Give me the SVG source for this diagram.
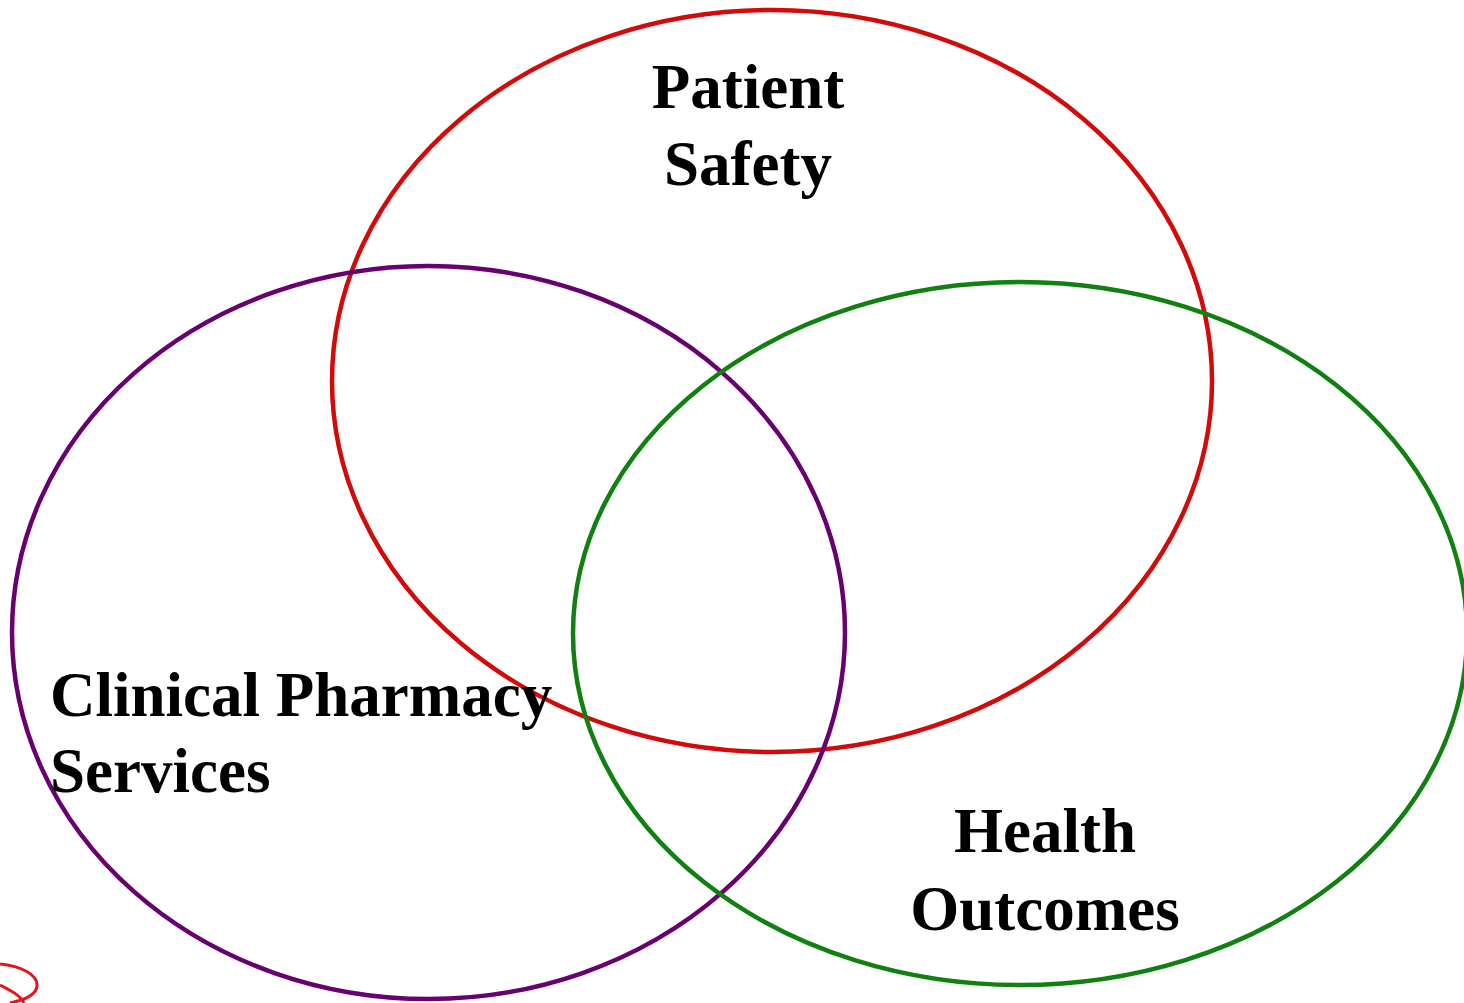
<svg xmlns="http://www.w3.org/2000/svg" width="1464" height="1003" viewBox="0 0 1464 1003">
<style>
.c{fill:none;stroke-width:4.5}
.t{font-family:"Liberation Serif","Times New Roman",serif;font-weight:bold;font-size:63px;fill:#000}
</style>
<rect width="1464" height="1003" fill="#fff"/>
<g id="squiggle" fill="none" stroke="#e8141c" stroke-width="3">
<path d="M0,964 C20,966 38,974 37,986 C36,995 25,1000 10,1003"/>
<path d="M0,985 C10,990 20,995 24,1003"/>
</g>
<g id="patient-safety">
<ellipse class="c" cx="772" cy="381" rx="440" ry="371" stroke="#d20a0a"/>
<text class="t" x="748" y="108" text-anchor="middle">Patient</text>
<text class="t" x="748" y="185" text-anchor="middle">Safety</text>
</g>
<g id="clinical-pharmacy">
<ellipse class="c" cx="428.5" cy="632.5" rx="416.5" ry="366.5" stroke="#680070"/>
<text class="t" x="50" y="716">Clinical Pharmacy</text>
<text class="t" x="50" y="792">Services</text>
</g>
<g id="health-outcomes">
<ellipse class="c" cx="1020" cy="633.5" rx="447" ry="351.5" stroke="#108010"/>
<text class="t" x="1045" y="852" text-anchor="middle">Health</text>
<text class="t" x="1045" y="930" text-anchor="middle">Outcomes</text>
</g>
<g id="connectors"/>
</svg>
